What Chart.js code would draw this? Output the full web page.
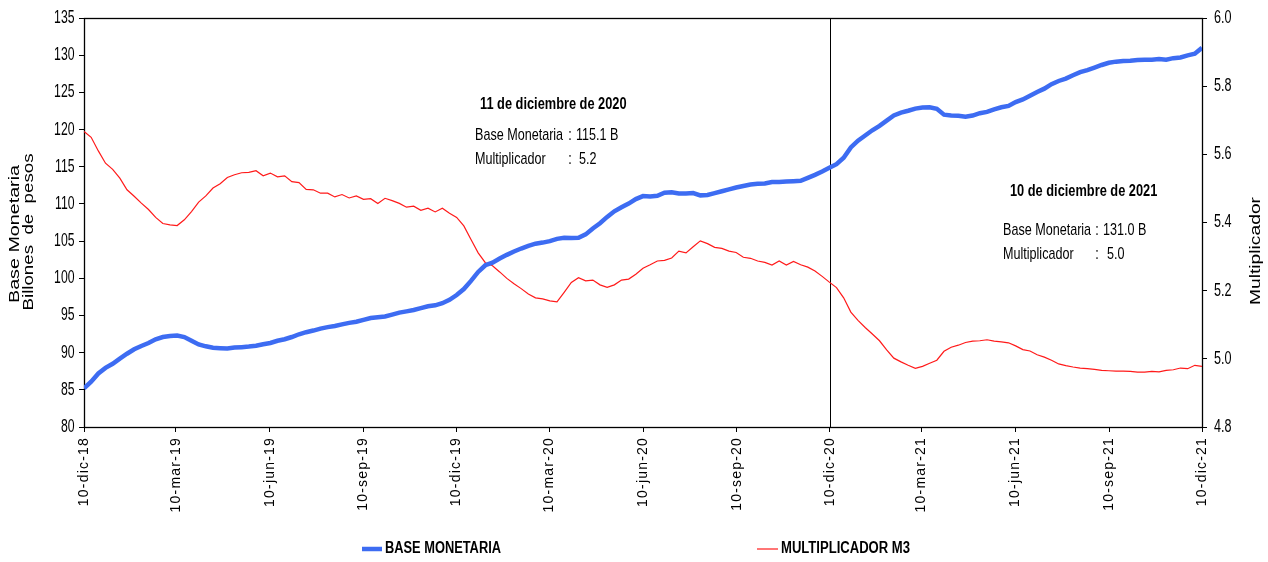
<!DOCTYPE html>
<html><head><meta charset="utf-8">
<script src="https://cdn.jsdelivr.net/npm/chart.js@4.4.1/dist/chart.umd.min.js"></script>
<style>html,body{margin:0;padding:0;background:#fff;overflow:hidden}</style>
</head><body>
<canvas id="c" width="1268" height="562"></canvas>
<script>
// ---------- DATA ----------
const startDate = '2018-12-10';
const endDate = '2021-12-10';
const markerDate = '2020-12-10';
const tickDates = ['2018-12-10','2019-03-10','2019-06-10','2019-09-10','2019-12-10','2020-03-10','2020-06-10','2020-09-10','2020-12-10','2021-03-10','2021-06-10','2021-09-10','2021-12-10'];
const tickLabels = ['10-dic-18','10-mar-19','10-jun-19','10-sep-19','10-dic-19','10-mar-20','10-jun-20','10-sep-20','10-dic-20','10-mar-21','10-jun-21','10-sep-21','10-dic-21'];
const seriesNames = ['BASE MONETARIA','MULTIPLICADOR M3'];
const leftTitle = ['Base Monetaria','Billones  de  pesos'];
const rightTitle = 'Multiplicador';
// weekly observations, 10-dic-18 .. 10-dic-21
const baseMonetaria = [
85.2,86.1,87.2,87.95,88.5,89.2,89.85,90.45,90.9,91.3,
91.8,92.1,92.25,92.3,92.1,91.6,91.1,90.85,90.65,90.6,
90.55,90.68,90.74,90.82,90.93,91.13,91.3,91.6,91.8,92.1,
92.47,92.75,92.97,93.23,93.43,93.58,93.8,94.0,94.15,94.4,
94.65,94.77,94.87,95.12,95.38,95.55,95.73,95.98,96.23,96.36,
96.65,97.1,97.75,98.55,99.65,100.85,101.75,102.1,102.65,103.15,
103.6,104.0,104.35,104.65,104.8,105.0,105.3,105.45,105.4,105.45,
105.9,106.7,107.4,108.25,109.0,109.55,110.05,110.65,111.05,111.0,
111.1,111.5,111.57,111.4,111.4,111.45,111.15,111.2,111.45,111.7,
111.95,112.2,112.4,112.6,112.7,112.75,112.95,112.95,113.0,113.06,
113.1,113.5,113.9,114.35,114.85,115.35,116.2,117.6,118.5,119.2,
119.9,120.5,121.2,121.9,122.28,122.53,122.82,122.97,123.0,122.8,
122.0,121.9,121.85,121.72,121.88,122.2,122.38,122.72,122.99,123.17,
123.7,124.05,124.55,125.05,125.5,126.1,126.53,126.85,127.3,127.72,
128.0,128.33,128.68,128.98,129.13,129.23,129.26,129.35,129.4,129.4,
129.48,129.4,129.6,129.7,129.98,130.2,131.0];
const multiplicadorM3 = [
5.667,5.650,5.610,5.574,5.556,5.530,5.496,5.477,5.457,5.438,
5.415,5.397,5.393,5.391,5.408,5.432,5.460,5.478,5.501,5.514,
5.532,5.540,5.546,5.547,5.552,5.537,5.545,5.534,5.537,5.520,
5.517,5.497,5.496,5.486,5.486,5.475,5.482,5.472,5.478,5.468,
5.470,5.456,5.471,5.464,5.456,5.445,5.448,5.436,5.442,5.431,
5.442,5.427,5.415,5.390,5.350,5.311,5.282,5.273,5.255,5.236,
5.220,5.206,5.190,5.179,5.176,5.170,5.167,5.195,5.224,5.238,
5.229,5.231,5.217,5.210,5.217,5.231,5.234,5.248,5.266,5.276,
5.287,5.289,5.296,5.316,5.311,5.329,5.346,5.338,5.327,5.324,
5.316,5.312,5.298,5.295,5.287,5.283,5.275,5.287,5.275,5.286,
5.276,5.269,5.258,5.242,5.225,5.209,5.179,5.137,5.113,5.092,
5.073,5.053,5.026,5.002,4.991,4.981,4.972,4.978,4.987,4.996,
5.022,5.034,5.040,5.048,5.052,5.053,5.056,5.052,5.050,5.047,
5.038,5.027,5.023,5.012,5.005,4.996,4.985,4.980,4.976,4.973,
4.971,4.969,4.966,4.965,4.964,4.964,4.963,4.961,4.961,4.963,
4.962,4.966,4.968,4.973,4.971,4.981,4.978];
const noteTitles = ['11 de diciembre de 2020','10 de diciembre de 2021'];
const noteBase = ['115.1 B','131.0 B'];
const noteMult = ['5.2','5.0'];

// ---------- HELPERS ----------
const FONT = "'Liberation Sans', Arial, sans-serif";
const DAY = 86400000;
const dayOf = d => (Date.parse(d + 'T00:00:00Z') - Date.parse(startDate + 'T00:00:00Z')) / DAY;
const totalDays = dayOf(endDate);
const toPoints = arr => { const st = totalDays / (arr.length - 1); return arr.map((v, i) => ({x: i * st, y: v})); };
const BLUE = '#3d6cf2', RED = '#ff1a1a';
const TICKLEN = 5;

function txt(ctx, s, x, y, o) {
  ctx.save();
  ctx.font = o.font; ctx.fillStyle = o.color || '#000';
  ctx.textBaseline = 'middle'; ctx.textAlign = o.align || 'left';
  ctx.letterSpacing = (o.ls || 0) + 'px';
  let sx = o.sx || 1;
  if (o.target) sx = o.target / ctx.measureText(s).width;
  ctx.translate(x, y);
  if (o.rot) ctx.rotate(o.rot);
  ctx.scale(sx, 1);
  ctx.fillText(s, 0, 0);
  ctx.restore();
}
function wrapLabels(scale, fn) {
  if (scale._wrapped) return; scale._wrapped = true;
  const orig = scale.drawLabels;
  scale.drawLabels = function (area) { const c = this.ctx; c.save(); fn.call(this, c); orig.call(this, area); c.restore(); };
}

const overlay = {
  id: 'overlay',
  beforeDatasetsDraw(chart) {
    const {ctx, chartArea: a, scales} = chart;
    ctx.save();
    ctx.strokeStyle = '#000'; ctx.lineWidth = 1;
    const mx = Math.round(scales.x.getPixelForValue(dayOf(markerDate))) + 0.5;
    ctx.beginPath(); ctx.moveTo(mx, a.top); ctx.lineTo(mx, a.bottom); ctx.stroke();
    ctx.lineWidth = 1.3;
    ctx.strokeRect(a.left + 0.5, a.top + 0.5, a.right - a.left, a.bottom - a.top);
    ctx.restore();
  },
  afterDraw(chart) {
    const {ctx} = chart;
    // axis titles
    txt(ctx, leftTitle[0], 15, 234, {font: '14px ' + FONT, align: 'center', rot: -Math.PI / 2, target: 138});
    txt(ctx, leftTitle[1], 29, 232, {font: '14px ' + FONT, align: 'center', rot: -Math.PI / 2, target: 157});
    txt(ctx, rightTitle, 1256, 251, {font: '14px ' + FONT, align: 'center', rot: -Math.PI / 2, target: 108});
    // annotations
    const pos = [
      {tx: 480, ty: 105, lx: 475, y1: 135, y2: 159, cx: 570, vx1: 576, vx2: 579},
      {tx: 1010, ty: 192, lx: 1003, y1: 230, y2: 254, cx: 1097, vx1: 1103, vx2: 1107}
    ];
    const tf = 'bold 16px ' + FONT, bf = '17px ' + FONT;
    pos.forEach((p, i) => {
      txt(ctx, noteTitles[i], p.tx, p.ty, {font: tf, sx: 0.8});
      txt(ctx, 'Base Monetaria', p.lx, p.y1, {font: bf, sx: 0.74});
      txt(ctx, ':', p.cx, p.y1, {font: bf, sx: 0.74, align: 'center'});
      txt(ctx, noteBase[i], p.vx1, p.y1, {font: bf, sx: 0.74});
      txt(ctx, 'Multiplicador', p.lx, p.y2, {font: bf, sx: 0.74});
      txt(ctx, ':', p.cx, p.y2, {font: bf, sx: 0.74, align: 'center'});
      txt(ctx, noteMult[i], p.vx2, p.y2, {font: bf, sx: 0.74});
    });
    // legend
    const ds = chart.data.datasets;
    const leg = [{x1: 362, x2: 382, tx: 385, w: 116}, {x1: 757, x2: 778, tx: 781, w: 129}];
    leg.forEach((l, i) => {
      ctx.save();
      ctx.strokeStyle = ds[i].borderColor; ctx.lineWidth = ds[i].borderWidth;
      ctx.beginPath(); ctx.moveTo(l.x1, 549); ctx.lineTo(l.x2, 549); ctx.stroke();
      ctx.restore();
      txt(ctx, ds[i].label, l.tx, 549, {font: 'bold 16px ' + FONT, target: l.w});
    });
  }
};

new Chart(document.getElementById('c'), {
  type: 'line',
  data: {
    datasets: [
      {label: seriesNames[0], data: toPoints(baseMonetaria), yAxisID: 'yL', borderColor: BLUE, borderWidth: 4.5, pointRadius: 0, tension: 0, order: 1},
      {label: seriesNames[1], data: toPoints(multiplicadorM3), yAxisID: 'yR', borderColor: RED, borderWidth: 1.2, pointRadius: 0, tension: 0, order: 2}
    ]
  },
  options: {
    responsive: false, animation: false, devicePixelRatio: 1,
    layout: {padding: {top: 18, right: 0, bottom: 45, left: 0}},
    plugins: {legend: {display: false}, tooltip: {enabled: false}},
    scales: {
      x: {
        type: 'linear', min: 0, max: totalDays,
        afterBuildTicks(s) { s.ticks = tickDates.map(d => ({value: dayOf(d)})); },
        afterFit(s) { s.height = 90; wrapLabels(s, c => { c.letterSpacing = '1.2px'; }); },
        ticks: {autoSkip: false, minRotation: 90, maxRotation: 90, padding: 5, color: '#000',
          font: {family: FONT, size: 14}, callback: (v, i) => tickLabels[i]},
        grid: {display: true, drawOnChartArea: false, drawTicks: true, tickLength: TICKLEN, color: '#000'},
        border: {display: false}
      },
      yL: {
        position: 'left', min: 80, max: 135,
        afterFit(s) {
          s.width = 84;
          wrapLabels(s, function (c) { const a = this.right - TICKLEN - 4.5; c.translate(a, 0); c.scale(0.68, 1); c.translate(-a, 0); });
        },
        ticks: {stepSize: 5, padding: 4.5, color: '#000', font: {family: FONT, size: 18}},
        grid: {display: true, drawOnChartArea: false, drawTicks: true, tickLength: TICKLEN, color: '#000'},
        border: {display: false}
      },
      yR: {
        position: 'right', min: 4.8, max: 6.0,
        afterFit(s) {
          s.width = 66;
          wrapLabels(s, function (c) { const a = this.left + TICKLEN + 7; c.translate(a, 0); c.scale(0.7, 1); c.translate(-a, 0); });
        },
        ticks: {stepSize: 0.2, padding: 7, color: '#000', font: {family: FONT, size: 18}, callback: v => Number(v).toFixed(1)},
        grid: {display: true, drawOnChartArea: false, drawTicks: true, tickLength: TICKLEN, color: '#000'},
        border: {display: false}
      }
    }
  },
  plugins: [overlay]
});
</script>
</body></html>
